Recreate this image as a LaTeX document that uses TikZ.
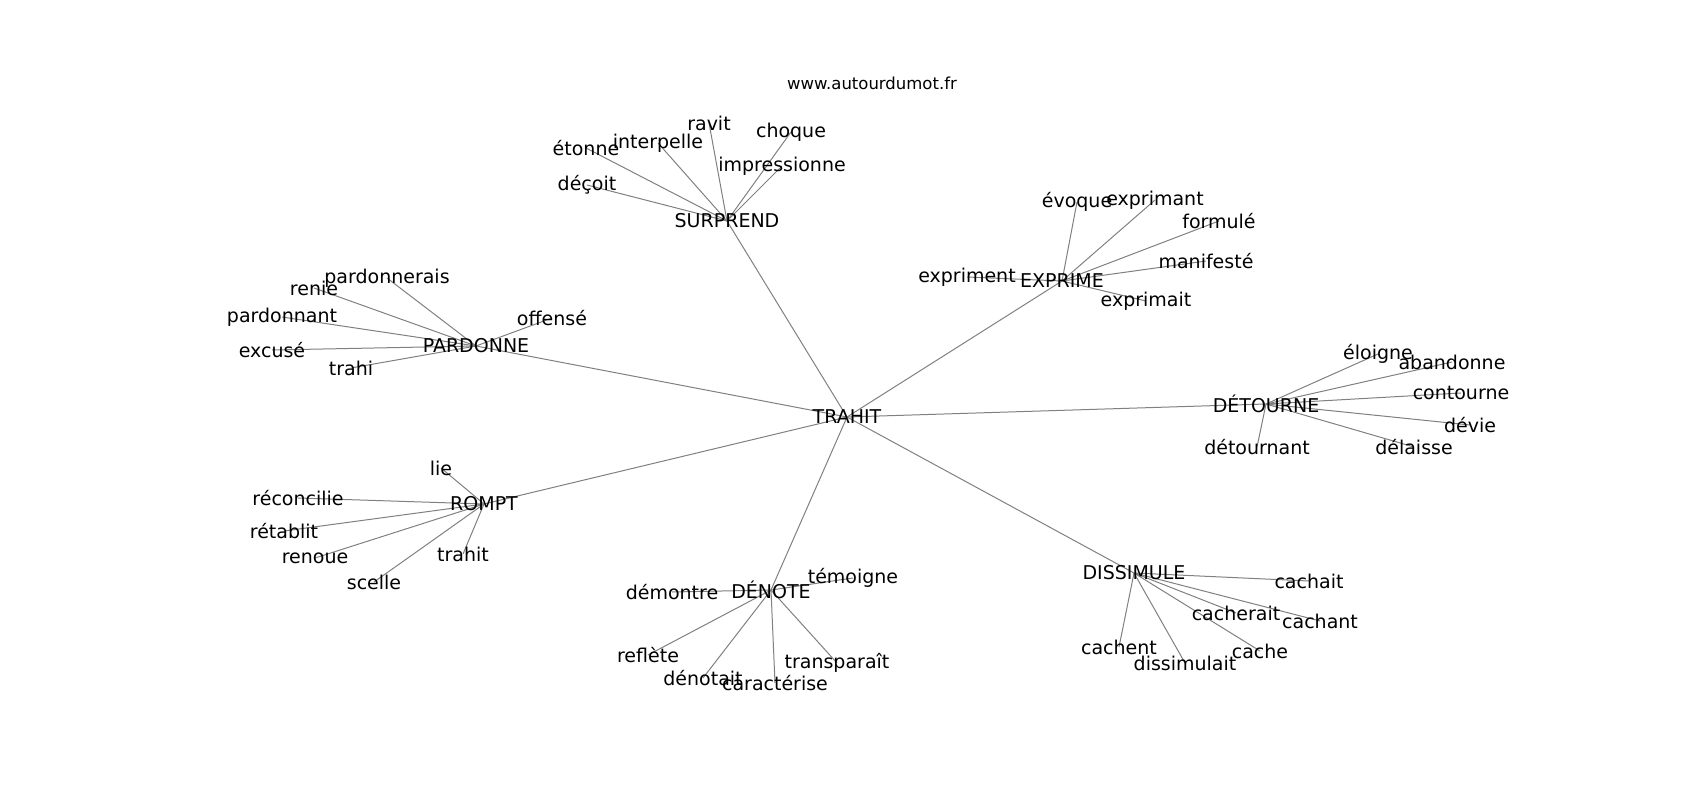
\documentclass[tikz,border=0pt]{standalone}
\usepackage{fontspec}
\setmainfont{DejaVu Sans}
\usetikzlibrary{backgrounds}
\begin{document}
\begin{tikzpicture}[x=1pt,y=-1pt,
  lbl/.style={font=\fontsize{19}{23}\selectfont, inner sep=0pt, text=black},
  edge/.style={draw=black!50, line width=1pt}]
\useasboundingbox (0,0) rectangle (1700,800);
\node[font=\fontsize{16.5}{20}\selectfont, inner sep=0pt] (title) at (872,83) {www.autourdumot.fr};
% hubs
\node[lbl] (t) at (847,417) {TRAHIT};
\node[lbl] (s) at (727,221) {SURPREND};
\node[lbl] (e) at (1062,281) {EXPRIME};
\node[lbl] (p) at (476,346) {PARDONNE};
\node[lbl] (d) at (1266,404) {DÉTOURNE};
\node[lbl] (r) at (484,504) {ROMPT};
\node[lbl] (n) at (771,590) {DÉNOTE};
\node[lbl] (m) at (1134,573) {DISSIMULE};
% SURPREND leaves
\node[lbl] (s1) at (586,148) {étonne};
\node[lbl] (s2) at (658,143) {interpelle};
\node[lbl] (s3) at (709,123) {ravit};
\node[lbl] (s4) at (791,132) {choque};
\node[lbl] (s5) at (782,166) {impressionne};
\node[lbl] (s6) at (587,185) {déçoit};
% EXPRIME leaves
\node[lbl] (e1) at (1077,202) {évoque};
\node[lbl] (e2) at (1155,200) {exprimant};
\node[lbl] (e3) at (1219,221) {formulé};
\node[lbl] (e4) at (1206,261) {manifesté};
\node[lbl] (e5) at (967,277) {expriment};
\node[lbl] (e6) at (1146,301) {exprimait};
% PARDONNE leaves
\node[lbl] (p1) at (387,278) {pardonnerais};
\node[lbl] (p2) at (314,288) {renie};
\node[lbl] (p3) at (282,317) {pardonnant};
\node[lbl] (p4) at (552,318) {offensé};
\node[lbl] (p5) at (272,350) {excusé};
\node[lbl] (p6) at (351,368) {trahi};
% DETOURNE leaves
\node[lbl] (d1) at (1378,354) {éloigne};
\node[lbl] (d2) at (1452,362) {abandonne};
\node[lbl] (d3) at (1461,393) {contourne};
\node[lbl] (d4) at (1470,425) {dévie};
\node[lbl] (d5) at (1414,447) {délaisse};
\node[lbl] (d6) at (1257,447) {détournant};
% ROMPT leaves
\node[lbl] (r1) at (441,468) {lie};
\node[lbl] (r2) at (298,498) {réconcilie};
\node[lbl] (r3) at (284,531) {rétablit};
\node[lbl] (r4) at (315,558) {renoue};
\node[lbl] (r5) at (463,554) {trahit};
\node[lbl] (r6) at (374,582) {scelle};
% DENOTE leaves
\node[lbl] (n1) at (672,592) {démontre};
\node[lbl] (n2) at (853,578) {témoigne};
\node[lbl] (n3) at (648,655) {reflète};
\node[lbl] (n4) at (837,663) {transparaît};
\node[lbl] (n5) at (703,678) {dénotait};
\node[lbl] (n6) at (775,683) {caractérise};
% DISSIMULE leaves
\node[lbl] (m1) at (1309,581) {cachait};
\node[lbl] (m2) at (1236,613) {cacherait};
\node[lbl] (m3) at (1320,621) {cachant};
\node[lbl] (m4) at (1119,647) {cachent};
\node[lbl] (m5) at (1260,651) {cache};
\node[lbl] (m6) at (1185,663) {dissimulait};
\begin{scope}[on background layer]
  \foreach \h in {s,e,p,d,r,n,m} {
    \draw[edge] (t.center) -- (\h.center);
    \foreach \i in {1,...,6} {
      \draw[edge] (\h.center) -- (\h\i.center);
    }
  }
\end{scope}
\end{tikzpicture}
\end{document}
